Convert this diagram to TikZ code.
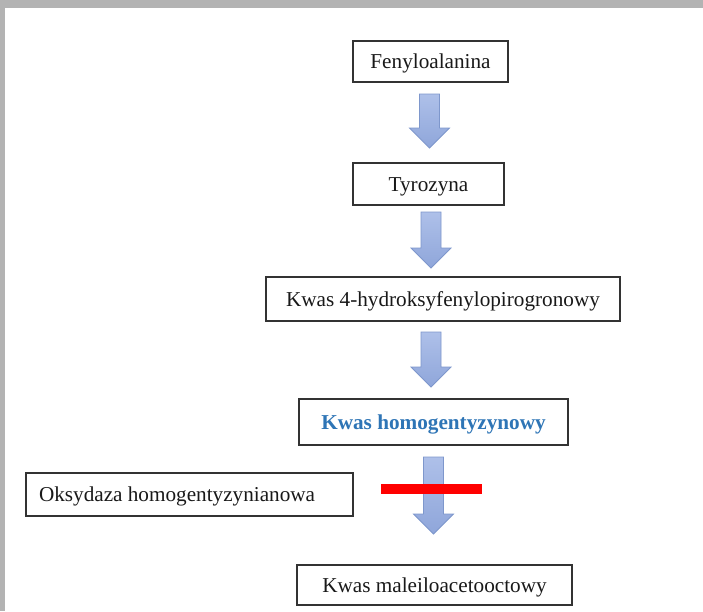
\documentclass[tikz,border=0pt]{standalone}
\usepackage{fontspec}
\setmainfont{Liberation Serif}
\usetikzlibrary{calc}
\definecolor{framegray}{HTML}{B3B3B3}
\definecolor{arrtop}{HTML}{AEC0E9}
\definecolor{arrbot}{HTML}{8FA6DA}
\definecolor{arrline}{HTML}{7E97CC}
\definecolor{wordblue}{HTML}{2E75B6}
\definecolor{barred}{HTML}{FF0000}
\tikzset{
  stepbox/.style={draw=black!80, line width=1.1pt, fill=white, rectangle, inner sep=0pt, align=center,
     font=\fontsize{21.2}{25}\selectfont, text=black!90, text height=14pt, text depth=0pt},
  blockarr/.style={draw=arrline, line width=0.8pt, top color=arrtop, bottom color=arrbot, line join=miter},
}
% block arrow: centre x, top y, tip y (pixel coordinates, y downward)
\newcommand{\barrowdraw}[3]{%
  \path[blockarr] (#1-10,#2) -- (#1+10,#2) -- (#1+10,#3-20) -- (#1+20,#3-20) -- (#1,#3)
     -- (#1-20,#3-20) -- (#1-10,#3-20) -- cycle;}
\begin{document}
\begin{tikzpicture}[x=1pt,y=-1pt]
\useasboundingbox (0,0) rectangle (703,611);
\fill[white] (0,0) rectangle (703,611);
\fill[framegray] (0,0) rectangle (703,8);
\fill[framegray] (0,0) rectangle (5,611);

\node[stepbox, minimum width=155pt, minimum height=41pt] (A) at (430.5,61.5) {Fenyloalanina};
\node[stepbox, minimum width=151pt, minimum height=42pt] (B) at (428.5,184) {Tyrozyna};
\node[stepbox, minimum width=354pt, minimum height=44pt] (C) at (443,299) {Kwas 4-hydroksyfenylopirogronowy};
\node[stepbox, minimum width=269pt, minimum height=46pt, text=wordblue, font=\fontsize{21.2}{25}\selectfont\bfseries] (D) at (433.5,422) {Kwas homogentyzynowy};
\node[stepbox, minimum width=327pt, minimum height=43pt] (E) at (189.5,494.5) {\makebox[301pt][l]{Oksydaza homogentyzynianowa}};
\node[stepbox, minimum width=275pt, minimum height=40pt] (F) at (434.5,585) {Kwas maleiloacetooctowy};

\barrowdraw{429.5}{94}{148}
\barrowdraw{431}{212}{268}
\barrowdraw{431}{332}{387}
\barrowdraw{433.5}{457}{534}

\fill[barred] (381,484) rectangle (482,494);
\end{tikzpicture}
\end{document}
